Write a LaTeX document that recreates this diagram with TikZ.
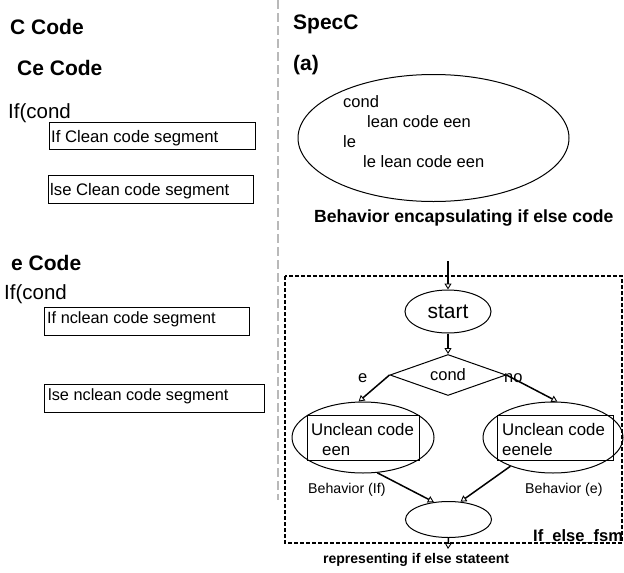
\documentclass[tikz,border=0pt]{standalone}
\usepackage{fontspec}
\setmainfont{Liberation Sans}
\usetikzlibrary{shapes.geometric,arrows.meta}
\begin{document}
\begin{tikzpicture}[x=1pt,y=-1pt,
  fs/.style={font=\fontsize{#1}{#1}\selectfont},
  bfs/.style={font=\bfseries\fontsize{#1}{#1}\selectfont},
  lbl/.style={anchor=base west,inner sep=0pt},
  codebox/.style={draw,line width=0.9pt},
  ell/.style={draw,ellipse,inner sep=0pt,line width=1pt},
  arr/.style={line width=1.5pt,-{Triangle[open,length=6pt,width=7pt,line width=0.9pt]}},
]
\useasboundingbox (0,0) rectangle (624,573);
% divider
\draw[gray!55,line width=1.1pt,dash pattern=on 9pt off 4pt] (278,0) -- (278,500);
% left side
\node[lbl,bfs=21] (t1) at (10,34) {C Code};
\node[lbl,bfs=21] (t2) at (17,75) {Ce Code};
\node[lbl,fs=20.5] (t3) at (8,118) {If(cond};
\draw[codebox] (49,122) rectangle (255,149);
\node[lbl,fs=16.7] (b1) at (51,142) {If Clean code segment};
\draw[codebox] (48,175) rectangle (253,203);
\node[lbl,fs=16.7] (b2) at (50,195) {lse Clean code segment};
\node[lbl,bfs=21] (t4) at (11,270) {e Code};
\node[lbl,fs=20.5] (t5) at (4,299) {If(cond};
\draw[codebox] (44,307) rectangle (249,335);
\node[lbl,fs=16.3] (b3) at (47,323) {If nclean code segment};
\draw[codebox] (44,384) rectangle (264,412);
\node[lbl,fs=16.3] (b4) at (48,400) {lse nclean code segment};
% right top
\node[lbl,bfs=21] (s1) at (293,29) {SpecC};
\node[lbl,bfs=21] (s2) at (293,70) {(a)};
\node[ell,minimum width=271pt,minimum height=127pt] (big) at (433.5,138) {};
\node[lbl,fs=16.5] (e1) at (343,107) {cond};
\node[lbl,fs=16.5] (e2) at (367,127) {lean code een};
\node[lbl,fs=16.5] (e3) at (343,147) {le};
\node[lbl,fs=16.5] (e4) at (363,167) {le lean code een};
\node[lbl,bfs=17.6] (cap1) at (314,222) {Behavior encapsulating if else code};
% fsm
\draw[line width=1.3pt,dash pattern=on 4pt off 2pt] (285,276) rectangle (622,543);
\coordinate (in) at (448,261);
\node[ell,minimum width=86pt,minimum height=43pt,fs=21] (start) at (448,311.5) {start};
\node[draw,diamond,aspect=2.83,inner sep=0pt,minimum width=116pt,minimum height=41pt,line width=1pt,fs=16.5] (cond) at (448,375) {cond};
\node[ell,minimum width=142pt,minimum height=71pt] (lb) at (363,437.5) {};
\draw[line width=1pt] (307,415) rectangle (419,460);
\node[lbl,fs=16.8] (l1) at (311,435) {Unclean code};
\node[lbl,fs=16.8] (l2) at (322,455) {een};
\node[ell,minimum width=140pt,minimum height=71pt] (rb) at (553,437.5) {};
\draw[line width=1pt] (497,415) rectangle (613,460);
\node[lbl,fs=16.8] (r1) at (502,435) {Unclean code};
\node[lbl,fs=16.8] (r2) at (502,455) {eenele};
\node[lbl,fs=14.2] (bl) at (308,493) {Behavior (If)};
\node[lbl,fs=14.2] (br) at (525,493) {Behavior (e)};
\node[ell,minimum width=86pt,minimum height=36pt] (bot) at (448.5,519.5) {};
\coordinate (out) at (448,549);
\node[lbl,fs=16.5] (ye) at (358,382) {e};
\node[lbl,fs=16.5] (no) at (504,382) {no};
\node[lbl,bfs=16.5] (fsm) at (533,541) {If\_else\_fsm};
\node[lbl,bfs=14] (cap2) at (323,563) {representing if else stateent};
% connectors
\draw[arr] (in) -- (start.north);
\draw[arr] (start.south) -- (cond.north);
\draw[arr] (cond.west) -- (lb.97);
\draw[arr] (cond.east) -- (rb.83);
\draw[arr] (lb.-68) -- (bot.130);
\draw[arr] (rb.-146) -- (bot.56);
\draw[arr] (bot.south) -- (out);
\end{tikzpicture}
\end{document}
